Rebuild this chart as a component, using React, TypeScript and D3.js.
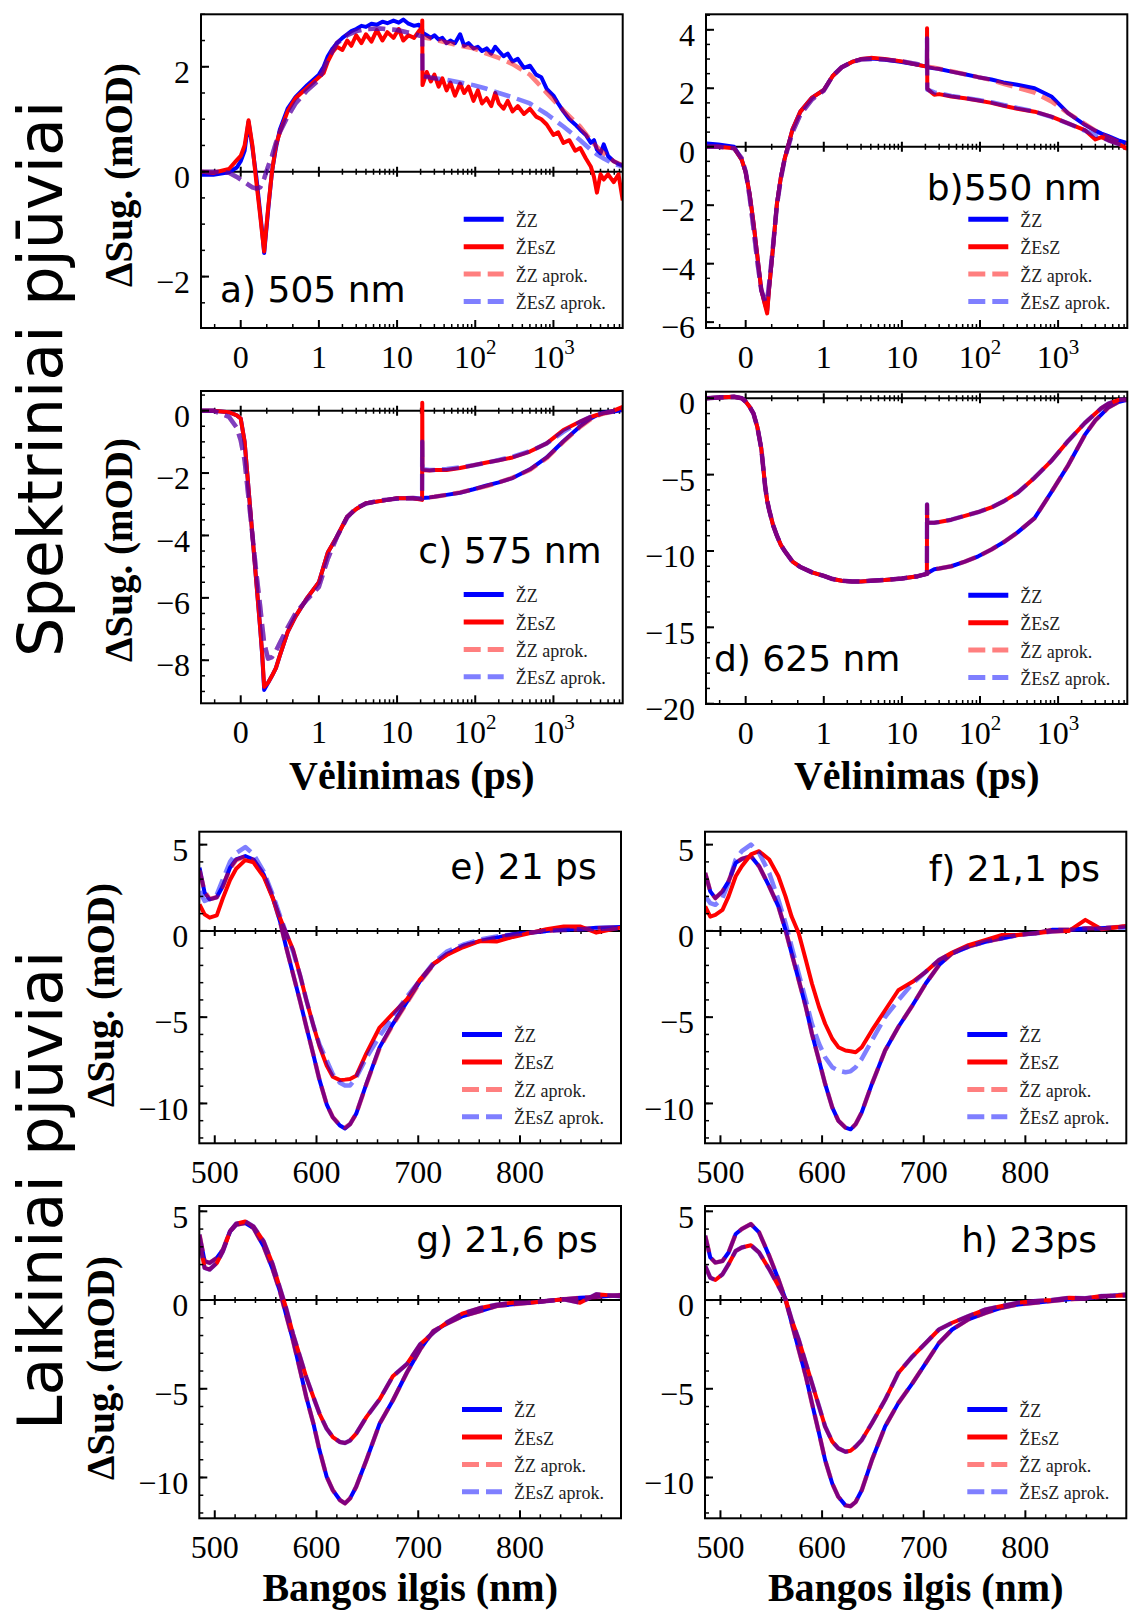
import React from "react";
import * as d3 from "d3";

// delay grid (ps) used by the kinetic traces a)-d)
const delays = [-0.5, -0.35, -0.15, -0.05, 0, 0.05, 0.1, 0.15, 0.2, 0.25, 0.275, 0.3, 0.35, 0.4, 0.45, 0.5, 0.6, 0.7, 0.85, 1, 1.3, 1.7, 2.3, 3, 4, 6, 10, 16, 20.9, 21, 21.15, 26, 30, 43, 64, 95, 140, 200, 300, 500, 820, 1340, 2200, 3000, 3600, 4400, 5900, 7700];
// denser delay grid for the noisy 505 nm measurement
const delays505 = [-0.5, -0.35, -0.15, -0.05, 0, 0.05, 0.1, 0.15, 0.2, 0.25, 0.275, 0.3, 0.35, 0.4, 0.45, 0.5, 0.6, 0.7, 0.85,
  1, 1.15, 1.3, 1.5, 1.7, 2, 2.3, 2.6, 3, 3.5, 4, 4.7, 5.5, 6.5, 7.5, 9, 10.5, 12, 14, 16.5, 19, 20.9, 21,
  21.15, 24, 27, 30, 34, 38, 43, 48, 55, 64, 72, 82, 95, 108, 122, 140, 160, 180, 200, 230, 260, 300, 350, 420, 500, 600, 700, 820, 1000, 1150, 1340, 1600, 1900, 2200, 2600, 3000, 3300, 3600, 4000, 4400, 5000, 5900, 6800, 7700];
// wavelength grid (nm) used by the spectra e)-h)
const waves = [485, 490, 495, 502, 508, 515, 521, 530, 538, 548, 557, 564, 570, 577, 584, 590, 597, 603, 610, 616, 623, 628, 633, 639, 649, 662, 675, 689, 702, 715, 728, 744, 761, 777, 793, 810, 826, 843, 859, 875, 899];

// a) 505 nm (measured on delays505, fits on delays)
const zz505 = [-0.06, -0.06, -0.01, 0.08, 0.2, 0.4, 0.95, 0.45, -0.1, -0.8, -1.15, -1.55, -0.75, 0, 0.45, 0.8, 1.2, 1.42, 1.65,
  1.85, 2.0, 2.2, 2.35, 2.45, 2.55, 2.62, 2.68, 2.72, 2.78, 2.76, 2.82, 2.8, 2.86, 2.83, 2.88, 2.84, 2.9, 2.82, 2.78, 2.8, 2.72, 2.7,
  2.65, 2.6, 2.55, 2.6, 2.52, 2.55, 2.45, 2.5, 2.45, 2.62, 2.4, 2.45, 2.35, 2.38, 2.3, 2.35, 2.25, 2.38, 2.3, 2.2, 2.25, 2.1, 2.15, 1.98, 2.02, 1.85, 1.8, 1.58, 1.45, 1.3, 1.15, 1.0, 0.9, 0.8, 0.7, 0.55, 0.6, 0.42, 0.35, 0.52, 0.3, 0.2, 0.15, 0.12];
const zesz505 = [0, -0.02, 0.05, 0.22, 0.3, 0.5, 0.98, 0.5, -0.2, -0.85, -1.2, -1.52, -0.7, 0, 0.5, 0.75, 1.15, 1.4, 1.6,
  1.8, 1.88, 2.1, 2.28, 2.38, 2.32, 2.5, 2.4, 2.6, 2.45, 2.62, 2.48, 2.7, 2.5, 2.66, 2.55, 2.72, 2.5, 2.6, 2.55, 2.68, 2.75, 2.88,
  1.65, 1.9, 1.72, 1.85, 1.62, 1.78, 1.55, 1.7, 1.45, 1.68, 1.5, 1.62, 1.35, 1.55, 1.3, 1.4, 1.25, 1.5, 1.3, 1.2, 1.35, 1.15, 1.25, 1.1, 1.2, 1.05, 1.0, 0.9, 0.7, 0.75, 0.55, 0.6, 0.4, 0.45, 0.25, 0.1, -0.1, -0.4, -0.05, -0.15, -0.05, -0.2, -0.05, -0.55];
const fitZz505 = [0, 0, -0.02, -0.1, -0.15, -0.2, -0.25, -0.3, -0.32, -0.3, -0.22, -0.13, 0.1, 0.3, 0.55, 0.75, 1.05, 1.3, 1.55, 1.75, 2.15, 2.45, 2.6, 2.68, 2.72, 2.73, 2.7, 2.63, 2.58, 2.57, 2.56, 2.54, 2.52, 2.46, 2.4, 2.35, 2.25, 2.17, 2.05, 1.85, 1.5, 1.17, 0.86, 0.6, 0.47, 0.35, 0.2, 0.12];
const fitZesz505 = [0, 0, -0.02, -0.1, -0.15, -0.2, -0.25, -0.3, -0.32, -0.3, -0.22, -0.13, 0.1, 0.3, 0.55, 0.75, 1.05, 1.3, 1.55, 1.75, 2.15, 2.45, 2.6, 2.68, 2.72, 2.73, 2.7, 2.63, 2.58, 2.58, 1.82, 1.8, 1.78, 1.75, 1.7, 1.65, 1.58, 1.5, 1.42, 1.3, 1.1, 0.86, 0.6, 0.42, 0.33, 0.25, 0.15, 0.1];

// b) 550 nm
const zz550 = [0.11, 0.08, 0, -0.45, -0.88, -1.6, -2.6, -3.75, -4.9, -5.4, -5.6, -4.85, -3.45, -1.95, -1.05, -0.4, 0.6, 1.2, 1.68, 1.94, 2.42, 2.72, 2.9, 3.0, 3.02, 2.98, 2.9, 2.8, 2.74, 2.73, 2.72, 2.68, 2.66, 2.57, 2.48, 2.38, 2.3, 2.2, 2.12, 2.0, 1.72, 1.15, 0.75, 0.55, 0.45, 0.36, 0.22, 0.12];
const zesz550 = [0, 0, -0.05, -0.45, -0.88, -1.6, -2.6, -3.75, -4.9, -5.45, -5.7, -4.85, -3.45, -1.95, -1.05, -0.4, 0.6, 1.2, 1.68, 1.94, 2.42, 2.72, 2.9, 3.0, 3.04, 3.0, 2.92, 2.8, 2.74, 4.05, 1.98, 1.78, 1.8, 1.72, 1.66, 1.58, 1.5, 1.4, 1.3, 1.2, 1.03, 0.8, 0.57, 0.25, 0.33, 0.22, 0.1, -0.08];
const fitZz550 = [0, 0, -0.05, -0.4, -0.85, -1.7, -2.8, -3.95, -4.9, -5.3, -5.25, -4.7, -3.4, -2.0, -1.1, -0.4, 0.5, 1.1, 1.62, 1.92, 2.42, 2.72, 2.9, 2.98, 3.0, 2.98, 2.92, 2.82, 2.76, 2.75, 2.74, 2.7, 2.67, 2.58, 2.48, 2.38, 2.28, 2.15, 2.02, 1.85, 1.55, 1.15, 0.78, 0.55, 0.43, 0.32, 0.17, 0.07];
const fitZesz550 = [0, 0, -0.05, -0.4, -0.85, -1.7, -2.8, -3.95, -4.9, -5.3, -5.25, -4.7, -3.4, -2.0, -1.1, -0.4, 0.5, 1.1, 1.62, 1.92, 2.42, 2.72, 2.9, 2.98, 3.0, 2.98, 2.92, 2.82, 2.76, 3.7, 1.95, 1.86, 1.82, 1.74, 1.67, 1.6, 1.52, 1.43, 1.33, 1.2, 1.02, 0.8, 0.55, 0.4, 0.32, 0.22, 0.1, 0.03];

// c) 575 nm
const zz575 = [0, 0, -0.05, -0.15, -0.25, -1.0, -2.5, -4.0, -5.5, -7.0, -7.85, -8.95, -8.72, -8.5, -8.25, -7.85, -7.1, -6.6, -6.0, -5.5, -4.55, -4.04, -3.4, -3.15, -2.97, -2.9, -2.81, -2.81, -2.84, -2.82, -2.8, -2.78, -2.76, -2.7, -2.63, -2.52, -2.4, -2.3, -2.16, -1.88, -1.5, -0.98, -0.5, -0.25, -0.15, -0.08, -0.03, 0.02];
const zesz575 = [0, 0, -0.05, -0.15, -0.25, -1.0, -2.5, -4.0, -5.5, -7.0, -7.8, -8.85, -8.72, -8.5, -8.25, -7.85, -7.1, -6.6, -6.0, -5.5, -4.55, -4.04, -3.4, -3.15, -2.97, -2.9, -2.81, -2.81, -2.86, 0.25, -1.9, -1.92, -1.9, -1.9, -1.84, -1.75, -1.66, -1.59, -1.5, -1.31, -1.05, -0.62, -0.35, -0.2, -0.14, -0.08, 0, 0.12];
const fitZz575 = [0, 0, -0.2, -0.55, -0.95, -1.6, -2.8, -4.0, -5.2, -6.3, -6.9, -7.45, -7.95, -7.9, -7.7, -7.45, -6.95, -6.5, -6.05, -5.65, -4.75, -4.05, -3.42, -3.12, -2.98, -2.88, -2.82, -2.8, -2.82, -2.8, -2.79, -2.78, -2.76, -2.7, -2.62, -2.52, -2.42, -2.3, -2.15, -1.9, -1.52, -1.0, -0.52, -0.27, -0.17, -0.09, -0.03, 0.02];
const fitZesz575 = [0, 0, -0.2, -0.55, -0.95, -1.6, -2.8, -4.0, -5.2, -6.3, -6.9, -7.45, -7.95, -7.9, -7.7, -7.45, -6.95, -6.5, -6.05, -5.65, -4.75, -4.05, -3.42, -3.12, -2.98, -2.88, -2.82, -2.8, -2.82, -1.0, -1.88, -1.9, -1.9, -1.87, -1.82, -1.75, -1.67, -1.58, -1.48, -1.3, -1.05, -0.68, -0.36, -0.2, -0.12, -0.06, -0.01, 0.05];

// d) 625 nm (fits coincide with the data)
const zz625 = [0, 0.05, 0.1, 0, -0.22, -0.55, -1.0, -1.9, -3.3, -5.8, -6.7, -7.3, -8.3, -9.0, -9.6, -10.0, -10.7, -11.05, -11.4, -11.63, -11.84, -11.95, -12.0, -12.0, -11.95, -11.9, -11.8, -11.65, -11.5, -11.5, -11.45, -11.2, -11.15, -11.0, -10.7, -10.35, -9.9, -9.43, -8.8, -7.85, -6.15, -4.4, -2.4, -1.45, -1.05, -0.6, -0.25, -0.1];
const zesz625 = [0, 0.05, 0.1, 0, -0.22, -0.55, -1.0, -1.9, -3.3, -5.8, -6.7, -7.3, -8.3, -9.0, -9.6, -10.0, -10.7, -11.05, -11.4, -11.63, -11.84, -11.95, -12.0, -12.0, -11.95, -11.9, -11.8, -11.65, -11.5, -6.95, -8.15, -8.15, -8.1, -7.95, -7.7, -7.45, -7.15, -6.75, -6.2, -5.2, -4.1, -2.8, -1.62, -1.0, -0.64, -0.35, -0.12, -0.08];

// e) 21 ps
const zz21 = [3.66, 2.22, 1.83, 1.95, 2.6, 3.66, 4.14, 4.34, 4.14, 3.28, 1.93, 0.58, -0.9, -2.51, -4.1, -5.55, -7.2, -8.65, -10.05, -10.8, -11.28, -11.45, -11.2, -10.6, -8.87, -6.75, -5.4, -4.1, -2.89, -1.93, -1.35, -0.87, -0.58, -0.39, -0.19, -0.1, 0, 0.1, 0.1, 0.19, 0.23];
const zesz21 = [1.54, 0.96, 0.77, 0.9, 1.9, 2.95, 3.6, 4.1, 3.97, 3.15, 1.9, 0.77, -0.1, -1.1, -2.6, -4.0, -5.5, -6.7, -7.8, -8.45, -8.65, -8.62, -8.58, -8.4, -7.1, -5.6, -4.8, -3.95, -2.8, -1.9, -1.4, -0.95, -0.58, -0.62, -0.35, -0.12, 0.1, 0.25, 0.26, -0.1, 0.19];
const fitZz21 = [3.5, 2.3, 1.85, 1.95, 2.6, 3.6, 4.1, 4.3, 4.1, 3.3, 1.95, 0.6, -0.9, -2.5, -4.1, -5.55, -7.2, -8.65, -10.05, -10.8, -11.25, -11.4, -11.2, -10.6, -8.9, -6.8, -5.45, -4.15, -2.95, -1.95, -1.35, -0.88, -0.58, -0.38, -0.22, -0.1, 0, 0.05, 0.1, 0.15, 0.2];
const fitZesz21 = [2.3, 1.74, 1.85, 2.1, 3.0, 4.0, 4.5, 4.86, 4.45, 3.45, 2.1, 0.9, -0.1, -1.2, -2.6, -4.0, -5.5, -6.6, -7.5, -8.3, -8.8, -8.96, -8.96, -8.5, -7.35, -6.1, -5.0, -3.8, -2.85, -1.85, -1.2, -0.8, -0.5, -0.32, -0.2, -0.1, 0, 0.05, 0.1, 0.12, 0.15];

// f) 21,1 ps
const zz211 = [3.36, 2.29, 1.9, 2.29, 2.87, 3.94, 4.17, 4.33, 3.75, 2.58, 1.42, 0.06, -1.3, -2.85, -4.41, -5.96, -7.51, -8.87, -10.23, -11.0, -11.4, -11.5, -11.2, -10.52, -8.87, -6.93, -5.57, -4.31, -3.05, -1.98, -1.3, -0.91, -0.62, -0.43, -0.23, -0.14, 0.06, 0.06, 0.16, 0.16, 0.25];
const zesz211 = [1.42, 0.83, 0.93, 1.22, 2.0, 3.17, 3.75, 4.43, 4.62, 4.14, 3.17, 2.0, 0.83, -0.14, -1.69, -3.05, -4.41, -5.38, -6.25, -6.74, -6.93, -6.97, -7.03, -6.74, -5.77, -4.6, -3.44, -2.95, -2.37, -1.69, -1.25, -0.82, -0.52, -0.23, -0.23, -0.14, -0.04, 0, 0.64, 0.1, 0.29];
const fitZesz211 = [2.0, 1.61, 1.51, 1.9, 2.78, 4.14, 4.62, 5.0, 4.52, 3.36, 1.81, 0.45, -0.91, -2.47, -4.02, -5.38, -6.54, -7.32, -7.9, -8.1, -8.19, -8.14, -7.9, -7.42, -6.35, -4.99, -4.02, -3.05, -2.37, -1.69, -1.3, -0.91, -0.62, -0.43, -0.23, -0.14, -0.04, 0.06, 0.06, 0.16, 0.2];

// g) 21,6 ps
const zz216 = [3.68, 2.19, 2.09, 2.37, 2.84, 3.87, 4.24, 4.34, 4.06, 3.03, 1.72, 0.5, -0.8, -2.3, -3.98, -5.48, -6.97, -8.47, -9.96, -10.71, -11.27, -11.46, -11.18, -10.52, -9.03, -6.97, -5.66, -4.07, -2.77, -1.74, -1.33, -0.9, -0.62, -0.34, -0.24, -0.15, -0.06, 0.04, 0.13, 0.17, 0.28];
const zesz216 = [3.31, 1.81, 1.72, 2.09, 2.75, 3.87, 4.3, 4.43, 4.15, 3.31, 2.0, 0.69, -0.43, -1.93, -3.23, -4.36, -5.48, -6.41, -7.25, -7.72, -8.0, -8.06, -7.91, -7.53, -6.6, -5.6, -4.3, -3.6, -2.49, -1.83, -1.27, -0.75, -0.45, -0.26, -0.15, -0.15, -0.06, 0.04, -0.15, 0.32, 0.22];

// h) 23 ps
const zz23 = [3.62, 2.4, 2.11, 2.2, 2.68, 3.72, 4.0, 4.28, 3.81, 2.49, 1.17, 0.04, -1.28, -2.79, -4.3, -5.81, -7.51, -9.02, -10.34, -11.09, -11.57, -11.62, -11.38, -10.72, -9.02, -7.13, -5.81, -4.68, -3.55, -2.42, -1.66, -1.09, -0.72, -0.43, -0.25, -0.15, -0.06, 0.04, 0.08, 0.19, 0.32];
const zesz23 = [1.92, 1.26, 1.13, 1.45, 2.02, 2.77, 2.96, 3.09, 2.68, 1.74, 0.79, 0.04, -1.09, -2.23, -3.55, -4.68, -6.0, -7.13, -7.98, -8.36, -8.55, -8.49, -8.26, -7.89, -6.94, -5.62, -4.11, -3.17, -2.42, -1.66, -1.28, -0.91, -0.53, -0.34, -0.15, -0.06, 0, 0.13, 0.1, 0.23, 0.26];

const delayMajor = [0, 1, 10, 100, 1000];
const delayMajorLabels = ["0", "1", "10", "10|2", "10|3"];
const waveMajor = [500, 600, 700, 800];
const legendLabels = ["ŽZ", "ŽEsZ", "ŽZ aprok.", "ŽEsZ aprok."];

const SERIF = "'Liberation Serif', 'Times New Roman', serif";
const SANS = "'DejaVu Sans', Verdana, sans-serif";

const styles = [
  { stroke: "#0000ff", opacity: 1, dash: null },
  { stroke: "#ff0000", opacity: 1, dash: null },
  { stroke: "#ff0000", opacity: 0.5, dash: "17,7" },
  { stroke: "#0000ff", opacity: 0.5, dash: "17,7" },
];

const panels = [
  { id: "a", kind: "t", x: 201, y: 14.3, w: 421.7, h: 313.7, yd: [-2.98, 3.0], major: 2, minor: 0.5,
    series: [[delays505, zz505], [delays505, zesz505], [delays, fitZz505], [delays, fitZesz505]],
    label: "a) 505 nm", lx: 220, ly: 301.7, anchor: "start" },
  { id: "b", kind: "t", x: 706, y: 14.3, w: 421.3, h: 313.7, yd: [-6.2, 4.53], major: 2, minor: 0.5,
    series: [[delays, zz550], [delays, zesz550], [delays, fitZz550], [delays, fitZesz550]],
    label: "b)550 nm", lx: 1101.7, ly: 200, anchor: "end" },
  { id: "c", kind: "t", x: 201, y: 391, w: 421.7, h: 312.3, yd: [-9.38, 0.63], major: 2, minor: 0.5,
    series: [[delays, zz575], [delays, zesz575], [delays, fitZz575], [delays, fitZesz575]],
    label: "c) 575 nm", lx: 601.7, ly: 562.7, anchor: "end" },
  { id: "d", kind: "t", x: 706, y: 391.7, w: 421.3, h: 312.3, yd: [-20.02, 0.43], major: 5, minor: 1,
    series: [[delays, zz625], [delays, zesz625], [delays, zz625], [delays, zesz625]],
    label: "d) 625 nm", lx: 714, ly: 670.7, anchor: "start" },
  { id: "e", kind: "w", x: 199.3, y: 831.7, w: 421.7, h: 311.6, yd: [-12.31, 5.75], major: 5, minor: 1,
    series: [[waves, zz21], [waves, zesz21], [waves, fitZz21], [waves, fitZesz21]],
    label: "e) 21 ps", lx: 596.7, ly: 879.3, anchor: "end" },
  { id: "f", kind: "w", x: 705, y: 831.7, w: 421.3, h: 311.6, yd: [-12.31, 5.75], major: 5, minor: 1,
    series: [[waves, zz211], [waves, zesz211], [waves, zz211], [waves, fitZesz211]],
    label: "f) 21,1 ps", lx: 1100, ly: 881, anchor: "end" },
  { id: "g", kind: "w", x: 199.3, y: 1206, w: 421.7, h: 312.3, yd: [-12.3, 5.3], major: 5, minor: 1,
    series: [[waves, zz216], [waves, zesz216], [waves, zz216], [waves, zesz216]],
    label: "g) 21,6 ps", lx: 597.7, ly: 1251.7, anchor: "end" },
  { id: "h", kind: "w", x: 705, y: 1206, w: 421.3, h: 312.3, yd: [-12.3, 5.3], major: 5, minor: 1,
    series: [[waves, zz23], [waves, zesz23], [waves, zz23], [waves, zesz23]],
    label: "h) 23ps", lx: 1097, ly: 1251.7, anchor: "end" },
];

const tf = (t: number) => (t <= 1 ? t : 1 + Math.log10(t));

function minus(v: number) {
  return v < 0 ? "\u2212" + Math.abs(v) : String(v);
}

function Panel({ p }: { p: any }) {
  const ys = d3.scaleLinear().domain(p.yd).range([p.h, 0]);
  let xf: (v: number) => number;
  let majors: number[];
  let labels: string[];
  let minors: number[];
  if (p.kind === "t") {
    const lin = d3.scaleLinear().domain([-0.508, 4.886]).range([0, p.w]);
    xf = (t) => lin(tf(t));
    majors = delayMajor;
    labels = delayMajorLabels;
    const tmax = Math.pow(10, 4.886 - 1);
    minors = [-1 / 3, 1 / 3, 2 / 3];
    for (let k = 0; k < 4; k++) for (let m = 2; m < 10; m++) {
      const v = m * Math.pow(10, k);
      if (v < tmax) minors.push(v);
    }
  } else {
    const lin = d3.scaleLinear().domain([484.8, 899.3]).range([0, p.w]);
    xf = lin;
    majors = waveMajor;
    labels = waveMajor.map(String);
    minors = d3.range(520, 900, 20).filter((v) => v % 100 !== 0);
  }
  const y0 = ys(0);
  const yMaj = d3.range(Math.ceil(p.yd[0] / p.major) * p.major, p.yd[1] + 1e-6, p.major);
  const yMin = d3.range(Math.ceil(p.yd[0] / p.minor) * p.minor, p.yd[1] + 1e-6, p.minor);
  const clip = "clip-" + p.id;
  const lx0 = p.w - 159;
  return (
    <g transform={`translate(${p.x},${p.y})`}>
      <defs>
        <clipPath id={clip}>
          <rect x={0} y={0} width={p.w} height={p.h} />
        </clipPath>
      </defs>
      <g clipPath={`url(#${clip})`}>
        <line x1={0} x2={p.w} y1={y0} y2={y0} stroke="#000" strokeWidth={2} />
        {minors.map((v, i) => (
          <line key={"zm" + i} x1={xf(v)} x2={xf(v)} y1={y0 - 3} y2={y0 + 3} stroke="#000" strokeWidth={1.5} />
        ))}
        {majors.map((v, i) => (
          <line key={"zM" + i} x1={xf(v)} x2={xf(v)} y1={y0 - 5} y2={y0 + 5} stroke="#000" strokeWidth={2} />
        ))}
        {p.series.map(([xsArr, s]: [number[], number[]], i: number) => {
          const line = d3.line<number>().x((_, j) => xf(xsArr[j])).y((d) => ys(d));
          return (
            <path key={i} d={line(s) || ""} fill="none" stroke={styles[i].stroke}
              strokeOpacity={styles[i].opacity} strokeWidth={i < 2 ? 4 : 4.5}
              strokeDasharray={styles[i].dash || undefined} strokeLinejoin="round" />
          );
        })}
      </g>
      {minors.map((v, i) => (
        <line key={"bm" + i} x1={xf(v)} x2={xf(v)} y1={p.h} y2={p.h - 4} stroke="#000" strokeWidth={1.5} />
      ))}
      {majors.map((v, i) => (
        <line key={"bM" + i} x1={xf(v)} x2={xf(v)} y1={p.h} y2={p.h - 8} stroke="#000" strokeWidth={2} />
      ))}
      {yMin.map((v, i) => (
        <line key={"lm" + i} x1={0} x2={4} y1={ys(v)} y2={ys(v)} stroke="#000" strokeWidth={1.5} />
      ))}
      {yMaj.map((v, i) => (
        <line key={"lM" + i} x1={0} x2={8} y1={ys(v)} y2={ys(v)} stroke="#000" strokeWidth={2} />
      ))}
      <rect x={0} y={0} width={p.w} height={p.h} fill="none" stroke="#000" strokeWidth={2} />
      {yMaj.map((v, i) => (
        <text key={"yl" + i} x={-11} y={ys(v) + 5} dy="0.35em" textAnchor="end" fontFamily={SERIF} fontSize={32}>
          {minus(Math.round(v))}
        </text>
      ))}
      {majors.map((v, i) => {
        const [base, sup] = labels[i].split("|");
        return (
          <text key={"xl" + i} x={xf(v)} y={p.h + 40} textAnchor="middle" fontFamily={SERIF} fontSize={32}>
            {base}
            {sup && <tspan dy={-14} fontSize={21}>{sup}</tspan>}
          </text>
        );
      })}
      {legendLabels.map((lab, i) => {
        const ly = p.h - 108.7 + i * 27.4;
        return (
          <g key={"lg" + i}>
            <line x1={lx0} x2={lx0 + 40} y1={ly} y2={ly} stroke={styles[i].stroke}
              strokeOpacity={styles[i].opacity} strokeWidth={5} strokeDasharray={styles[i].dash || undefined} />
            <text x={p.w - 107} y={ly + 7.5} fontFamily={SERIF} fontSize={18} fill="#222">{lab}</text>
          </g>
        );
      })}
      <text x={p.lx - p.x} y={p.ly - p.y} textAnchor={p.anchor} fontFamily={SANS} fontSize={36}>{p.label}</text>
    </g>
  );
}

export default function App() {
  const yTitles = [
    { x: 131.7, y: 175 },
    { x: 131.7, y: 550 },
    { x: 114, y: 995 },
    { x: 114, y: 1368 },
  ];
  return (
    <svg width={1130} height={1613} style={{ position: "absolute", left: 0, top: 0, background: "#fff" }}>
      <rect width={1130} height={1613} fill="#fff" />
      {panels.map((p) => <Panel key={p.id} p={p} />)}
      {yTitles.map((t, i) => (
        <text key={i} transform={`translate(${t.x},${t.y}) rotate(-90)`} textAnchor="middle"
          fontFamily={SERIF} fontWeight="bold" fontSize={39}>ΔSug. (mOD)</text>
      ))}
      <text x={411.9} y={789} textAnchor="middle" fontFamily={SERIF} fontWeight="bold" fontSize={40}>Vėlinimas (ps)</text>
      <text x={916.7} y={789} textAnchor="middle" fontFamily={SERIF} fontWeight="bold" fontSize={40}>Vėlinimas (ps)</text>
      <text x={410.2} y={1601} textAnchor="middle" fontFamily={SERIF} fontWeight="bold" fontSize={40}>Bangos ilgis (nm)</text>
      <text x={915.7} y={1601} textAnchor="middle" fontFamily={SERIF} fontWeight="bold" fontSize={40}>Bangos ilgis (nm)</text>
      <text transform="translate(61.7,657) rotate(-90)" fontFamily={SANS} fontSize={62}>Spektriniai pjūviai</text>
      <text transform="translate(61.7,1430) rotate(-90)" fontFamily={SANS} fontSize={62}>Laikiniai pjūviai</text>
    </svg>
  );
}
